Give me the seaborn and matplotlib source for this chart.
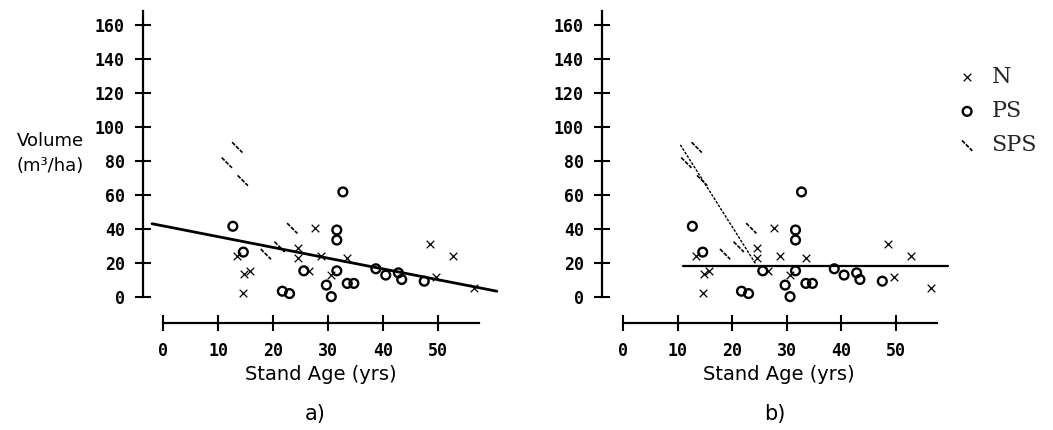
import matplotlib
matplotlib.use("Agg")
import matplotlib.pyplot as plt
from matplotlib.path import Path
import pandas as pd
import seaborn as sns

# Natural stands (N)
n_age = [27.6, 13.4, 24.6, 24.6, 28.7, 33.5, 14.8, 15.8, 14.6, 26.6, 30.6, 48.5, 52.7, 49.7, 56.5]
n_vol = [40.4, 24.0, 29.0, 22.7, 24.0, 23.0, 13.3, 15.3, 2.3, 15.2, 13.0, 31.0, 24.0, 11.8, 5.4]

# Planted stands (PS)
ps_age = [32.7, 12.7, 31.6, 31.6, 14.6, 25.6, 31.6, 29.7, 30.6, 21.7, 23.0, 33.5, 34.7,
          38.7, 40.5, 42.8, 43.4, 47.5]
ps_vol = [61.8, 41.6, 39.4, 33.5, 26.4, 15.4, 15.4, 7.0, 0.2, 3.4, 2.0, 8.0, 8.0,
          16.6, 12.9, 14.2, 10.3, 9.3]

# Scarified planted stands (SPS)
sps_age = [11.6, 13.5, 14.5, 18.7, 21.2, 23.5]
sps_vol = [79.0, 88.0, 68.5, 25.2, 29.5, 40.4]

# Fitted lines
fit_all_age = [-2.0, 60.7]
fit_all_vol = [43.1, 3.4]
fit_mean_age = [11.0, 59.6]
fit_mean_vol = [18.3, 18.3]
fit_sps_age = [10.5, 24.3]
fit_sps_vol = [89.5, 19.5]

x_ticks = [0, 10, 20, 30, 40, 50]
y_ticks = [0, 20, 40, 60, 80, 100, 120, 140, 160]
panel_tags = ["a)", "b)"]
legend_labels = ["N", "PS", "SPS"]

df_n = pd.DataFrame({"age": n_age, "volume": n_vol})
df_ps = pd.DataFrame({"age": ps_age, "volume": ps_vol})
df_sps = pd.DataFrame({"age": sps_age, "volume": sps_vol})

sns.set_theme(style="ticks")
plt.rcParams["font.family"] = ["DejaVu Sans"]

W, H = 1053, 430
fig = plt.figure(figsize=(W / 100, H / 100), dpi=100)


def add_axes_px(x0, x1, y_top, y_bot):
    return fig.add_axes([x0 / W, 1 - y_bot / H, (x1 - x0) / W, (y_bot - y_top) / H])


ax_a = add_axes_px(143, 498.5, 8, 323)
ax_b = add_axes_px(602, 956, 8, 323)

backslash = Path([(-1, 1), (1, -1)], [Path.MOVETO, Path.LINETO])


def draw_points(ax):
    sns.scatterplot(data=df_n, x="age", y="volume", marker="x", s=30, color="black",
                    linewidth=0.9, ax=ax, legend=False, zorder=3)
    sns.scatterplot(data=df_ps, x="age", y="volume", marker="o", s=40, color="black",
                    facecolor="none", edgecolor="black", linewidth=1.7, ax=ax,
                    legend=False, zorder=3)
    sns.scatterplot(data=df_sps, x="age", y="volume", marker=backslash, s=55, color="black",
                    facecolor="none", edgecolor="black", linewidth=1.2,
                    linestyle=(0, (2.5, 0.8)), ax=ax, legend=False, zorder=3)


draw_points(ax_a)
draw_points(ax_b)

sns.lineplot(x=fit_all_age, y=fit_all_vol, color="black", linewidth=2.0, ax=ax_a)
sns.lineplot(x=fit_mean_age, y=fit_mean_vol, color="black", linewidth=1.6, ax=ax_b)
sns.lineplot(x=fit_sps_age, y=fit_sps_vol, color="black", linewidth=1.0,
             linestyle=(0, (2.0, 1.0)), ax=ax_b)

mono_bold = {"family": "DejaVu Sans Mono", "weight": "bold", "size": 12}

for ax, xlo, tag, cx in [(ax_a, -3.64, panel_tags[0], 315), (ax_b, -3.85, panel_tags[1], 775)]:
    ax.set_xlim(xlo, 61)
    ax.set_ylim(-15.3, 170)
    ax.set_facecolor("white")
    for side in ["top", "right"]:
        ax.spines[side].set_visible(False)
    ax.spines["left"].set_bounds(0, 168)
    ax.spines["bottom"].set_bounds(0, 57.5)
    for side in ["left", "bottom"]:
        ax.spines[side].set_linewidth(1.6)
        ax.spines[side].set_color("black")
    ax.set_xticks(x_ticks)
    ax.set_yticks(y_ticks)
    ax.set_xticklabels([str(v) for v in x_ticks], fontdict=mono_bold)
    ax.set_yticklabels([str(v) for v in y_ticks], fontdict=mono_bold)
    ax.tick_params(axis="both", direction="inout", length=12, width=1.5, colors="black",
                   bottom=True, left=True)
    ax.tick_params(axis="x", pad=8)
    ax.tick_params(axis="y", pad=7)
    ax.set_xlabel("Stand Age (yrs)", fontsize=14, color="black", labelpad=3)
    ax.set_ylabel("")
    fig.text(cx / W, 1 - 414 / H, tag, ha="center", va="center", fontsize=15, color="black")

fig.text(50 / W, 1 - 153.5 / H, "Volume\n(m³/ha)", ha="center", va="center",
         fontsize=13, linespacing=1.45, color="black")

handles = ax_b.collections[:3]
fig.legend(handles, legend_labels, loc="upper left", bbox_to_anchor=(956 / W, 1 - 66 / H),
           frameon=False, borderpad=0, borderaxespad=0, handlelength=1.0,
           handletextpad=0.6, labelspacing=0.55,
           prop={"family": "DejaVu Serif", "size": 16})

fig.savefig("out.png", dpi=100, facecolor="white")
